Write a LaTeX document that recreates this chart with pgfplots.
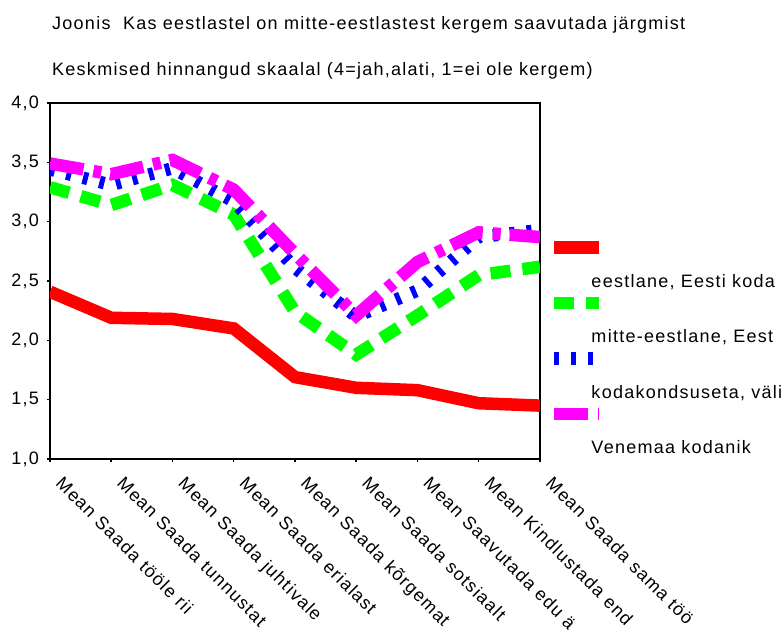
\documentclass[border=0pt]{standalone}
\usepackage{fontspec}
\setmainfont[LetterSpace=7]{Liberation Sans}
\usepackage{pgfplots}
\pgfplotsset{compat=1.18}
\definecolor{sred}{RGB}{255,0,0}
\definecolor{sgreen}{RGB}{0,255,0}
\definecolor{sblue}{RGB}{0,0,255}
\definecolor{smag}{RGB}{255,0,255}
\newcommand{\lf}{\fontsize{18pt}{21pt}\selectfont}
\begin{document}
\lf
\begin{tikzpicture}
\begin{axis}[name=ax, at={(0,0)}, anchor=south west,
  scale only axis, width=490pt, height=356pt,
  xmin=0, xmax=8, ymin=1, ymax=4,
  xtick={0,1,...,8},
  xticklabels={Mean Saada tööle rii, Mean Saada tunnustat, Mean Saada juhtivale, Mean Saada erialast, Mean Saada kõrgemat, Mean Saada sotsiaalt, Mean Saavutada edu ä, Mean Kindlustada end, Mean Saada sama töö},
  ytick={1,1.5,2,2.5,3,3.5,4},
  /pgf/number format/assume math mode=true,
  yticklabel style={/pgf/number format/fixed, /pgf/number format/fixed zerofill, /pgf/number format/precision=1, /pgf/number format/use comma, anchor=east, inner sep=0pt, xshift=-8pt},
  ticklabel style={font=\lf},
  xticklabel style={xshift=14pt, yshift=-13pt, rotate=-45, anchor=north west, inner sep=0pt},
  xtick pos=bottom, ytick pos=left,
  tick align=outside, major tick length=3pt,
  tick style={black, line width=1.5pt},
  axis line style={black, line width=1.3pt},
  legend cell align=left,
  legend style={at={(axis description cs:1,1)}, anchor=north west, xshift=39pt, yshift=-171pt,
    draw=none, fill=none, inner sep=0pt, outer sep=0pt, row sep=38.5pt, column sep=0pt,
    nodes={inner sep=0pt, text height=13pt, text depth=4pt, anchor=west, font=\lf}},
  legend image code/.code={\path (0pt,0pt); \draw[#1,overlay] (-31pt,35pt) -- (14pt,35pt);},
]
\addplot[sred, line width=12.5pt] coordinates {(0,2.41) (1,2.19) (2,2.18) (3,2.10) (4,1.69) (5,1.60) (6,1.58) (7,1.47) (8,1.45)};
\addlegendentry{eestlane, Eesti koda}
\addplot[sgreen, line width=12.5pt, dash pattern=on 20pt off 12pt] coordinates {(0,3.29) (1,3.14) (2,3.31) (3,3.06) (4,2.24) (5,1.88) (6,2.21) (7,2.55) (8,2.62)};
\addlegendentry{mitte-eestlane, Eest}
\addplot[sblue, line width=12.5pt, dash pattern=on 5pt off 12pt] coordinates {(0,3.44) (1,3.31) (2,3.45) (3,3.17) (4,2.61) (5,2.20) (6,2.42) (7,2.87) (8,2.93)};
\addlegendentry{kodakondsuseta, väli}
\addplot[smag, line width=12.5pt, dash pattern=on 34pt off 10pt on 8pt off 9pt] coordinates {(0,3.49) (1,3.40) (2,3.52) (3,3.27) (4,2.73) (5,2.21) (6,2.66) (7,2.91) (8,2.87)};
\addlegendentry{Venemaa kodanik}
\end{axis}
\node[anchor=base west, inner sep=0pt, font=\lf] at (2pt,429.7pt) {Joonis\ \ Kas eestlastel on mitte-eestlastest kergem saavutada järgmist};
\node[anchor=base west, inner sep=0pt, font=\lf] at (2pt,383pt) {Keskmised hinnangud skaalal (4=jah,alati, 1=ei ole kergem)};
\pgfresetboundingbox
\path (-50pt,-178pt) rectangle (734pt,459pt);
\end{tikzpicture}
\end{document}
